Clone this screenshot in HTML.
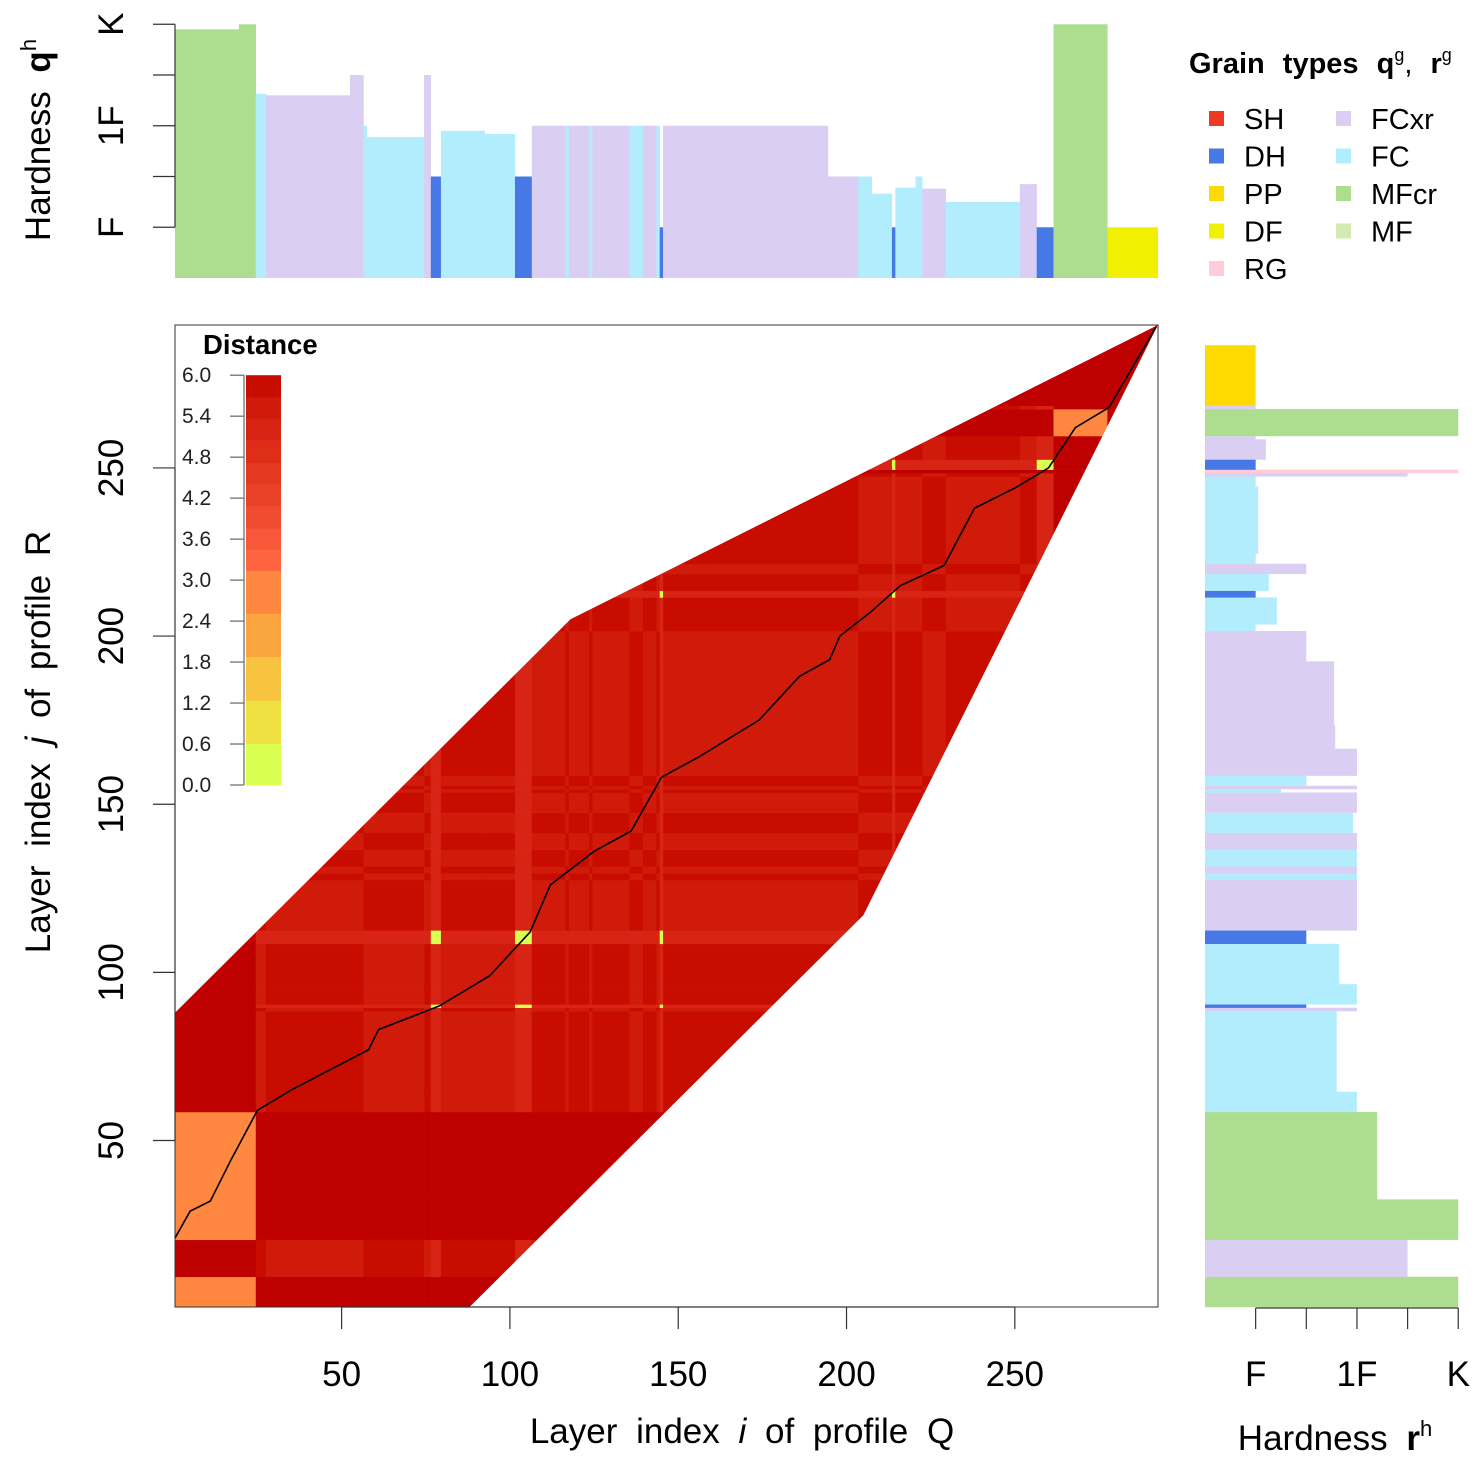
<!DOCTYPE html>
<html><head><meta charset="utf-8"><style>
html,body{margin:0;padding:0;background:#fff}
svg{display:block;font-family:"Liberation Sans",sans-serif}
</style></head><body>
<svg id="chart" width="1484" height="1464" xmlns="http://www.w3.org/2000/svg">
<defs><clipPath id="winclip"><polygon id="winpoly"/></clipPath></defs>
<g id="heat" clip-path="url(#winclip)"></g>
<g id="topbars"></g>
<g id="rightbars"></g>
<path id="warp" fill="none" stroke="#000" stroke-width="1.6"/>
<rect x="175" y="325" width="983" height="982" fill="none" stroke="#333" stroke-width="1"/>
<g id="axes" stroke="#333" stroke-width="1.2" fill="none"></g>
<g id="labels" fill="#000">
  <text x="742" y="1443" font-size="35" text-anchor="middle" word-spacing="9">Layer index <tspan font-style="italic">i</tspan> of profile Q</text>
  <text transform="translate(50,742) rotate(-90)" font-size="35" text-anchor="middle" word-spacing="9">Layer index <tspan font-style="italic">j</tspan> of profile R</text>
  <text transform="translate(50,140) rotate(-90)" font-size="35" text-anchor="middle" word-spacing="9">Hardness <tspan font-weight="bold">q</tspan><tspan font-size="22" dy="-14">h</tspan></text>
  <text x="1335" y="1450" font-size="35" text-anchor="middle" word-spacing="9">Hardness <tspan font-weight="bold">r</tspan><tspan font-size="22" dy="-14">h</tspan></text>
</g>
<g>
  <text x="1189" y="73" font-size="29" font-weight="bold" word-spacing="10">Grain types q<tspan font-size="18" dy="-12" font-weight="normal">g</tspan><tspan dy="12" font-weight="normal">, </tspan><tspan>r</tspan><tspan font-size="18" dy="-12" font-weight="normal">g</tspan></text>
  <g id="legitems"></g>
</g>
<g>
  <text x="203" y="354" font-size="27.5" font-weight="bold">Distance</text>
  <g id="cbar"></g>
</g>
</svg>
<script>
// ---- data ----
const qTop   = [19,24,27,52,56,57,74,76,79,92,101,106,116,117,123,124,135,139,143,144,145,194,203,207,213,214,220,222,229,251,256,261,277,292];
const qGrain = ['MFcr','MFcr','FC','FCxr','FCxr','FC','FC','FCxr','DH','FC','FC','DH','FCxr','FC','FCxr','FC','FCxr','FC','FCxr','FC','DH','FCxr','FCxr','FC','FC','DH','FC','FC','FCxr','FC','FCxr','DH','MFcr','DF'];
const qHard  = [4.9,5,3.63,3.6,4,3,2.78,4,2,2.9,2.84,2,3,3,3,3,3,3,3,3,1,3,2,2,1.66,1,1.78,2,1.76,1.5,1.85,1,5,1];
const rTop   = [9,20,32,58,64,88,89,90,96,108,112,127,129,131,136,141,147,153,154,155,158,166,173,192,201,203,211,213,218,221,224,244,247,248,249,252,258,259,267,268,286,292];
const rGrain = ['MFcr','FCxr','MFcr','MFcr','FC','FC','FCxr','DH','FC','FC','DH','FCxr','FC','FCxr','FC','FCxr','FC','FCxr','FC','FCxr','FC','FCxr','FCxr','FCxr','FCxr','FC','FC','DH','FC','FCxr','FC','FC','FC','FCxr','RG','DH','FCxr','FCxr','MFcr','FCxr','PP','none'];
const rHard  = [5,4,5,3.4,3,2.6,3,2,3,2.65,2,3,3,3,3,3,2.92,3,1.5,3,2,3,2.57,2.55,2,1,1.42,1,1.26,2,1,1.05,1,4,5,1,1.2,1,5,1,1,0];
const winI = [0.5,118,292.5,205,88,0.5];
const winJ = [88,205,292.5,117,0.5,0.5];
const pathI = [0.5,5,11,17,25,35,58,61,79,94,106,112,125,136,145,156,174,186,195,198,207,216,229,238,250,260,268,278,292];
const pathJ = [21,29,32,44,59,65,77,83,90,99,112,126,136,142,158,164,175,188,193,200,207,215,221,238,244,250,262,268,292];
const xTicks = [50,100,150,200,250];
const yTicks = [50,100,150,200,250];
const hTicks = [1,2,3,4,5];
const hLabels = {1:'F',3:'1F',5:'K'};
const cbBreaks = [0,0.61,1.24,1.88,2.51,3.14,3.45,3.76,4.09,4.41,4.72,5.05,5.37,5.68,6.0];
const cbColors = ['#D9FF50','#EEE040','#F8C440','#FBA540','#FF8740','#FF6440','#F85838','#F04C30','#EA4228','#E43820','#DE2E18','#D82414','#D01A0A','#C80C00'];
const cbLabels = ['0.0','0.6','1.2','1.8','2.4','3.0','3.6','4.2','4.8','5.4','6.0'];
const legNames = ['SH','DH','PP','DF','RG','FCxr','FC','MFcr','MF'];
const grainColor = {SH:'#EE3A22',DH:'#4678E6',PP:'#FFDA00',DF:'#F0F000',RG:'#FFCCD8',FCxr:'#DACEF3',FC:'#B2EDFE',MFcr:'#ADDE8F',MF:'#D2EBB5',none:'#fff'};

// ---- scales ----
const xS = i => 175 + (i-0.5)*3.366;
const yS = j => 1307 - (j-0.5)*3.363;
const hY = h => 278 - h*50.75;
const hX = h => 1205 + h*50.65;
const cbY = v => 785 - v*68.3;
const NS='http://www.w3.org/2000/svg';
function mk(tag, attrs, parent){const e=document.createElementNS(NS,tag);for(const k in attrs)e.setAttribute(k,attrs[k]);parent.appendChild(e);return e;}

function dist(a,b){
  if(a==='MFcr'&&b==='MFcr') return 2.8;
  if(a==='DH'&&b==='DH') return 0.3;
  if(a==='MFcr'||b==='MFcr') return 6.01;
  if(['PP','DF','RG','none'].includes(a)||['PP','DF','RG','none'].includes(b)) return 6.01;
  if(a==='DH'||b==='DH') return 5.2;
  if(a===b) return 5.5;
  return 5.8;
}
function colorOf(d){
  if(d>6) return '#BE0000';
  for(let k=0;k<cbColors.length;k++) if(d<=cbBreaks[k+1]) return cbColors[k];
  return cbColors[cbColors.length-1];
}

document.getElementById('winpoly').setAttribute('points', winI.map((v,k)=>xS(v)+','+yS(winJ[k])).join(' '));

const heat=document.getElementById('heat');
let qs=0;
qTop.forEach((qt,a)=>{
  let rs=0;
  rTop.forEach((rt,b)=>{
    const r=mk('rect',{x:xS(qs+0.5),y:yS(rt+0.5),width:xS(qt+0.5)-xS(qs+0.5)+0.3,height:yS(rs+0.5)-yS(rt+0.5)+0.3,fill:colorOf(dist(qGrain[a],rGrain[b]))},heat);
    
    
    rs=rt;
  });
  qs=qt;
});

const tb=document.getElementById('topbars');
qs=0;
qTop.forEach((qt,a)=>{
  const r=mk('rect',{x:xS(qs+0.5),y:hY(qHard[a]),width:xS(qt+0.5)-xS(qs+0.5)+0.2,height:hY(0)-hY(qHard[a]),fill:grainColor[qGrain[a]]},tb);
  
  
  qs=qt;
});
const rb=document.getElementById('rightbars');
let rs=0;
rTop.forEach((rt,b)=>{
  if(rHard[b]>0){
    const r=mk('rect',{x:hX(0),y:yS(rt+0.5),width:hX(rHard[b])-hX(0),height:yS(rs+0.5)-yS(rt+0.5)+0.2,fill:grainColor[rGrain[b]]},rb);
    
    
  }
  rs=rt;
});

document.getElementById('warp').setAttribute('d', pathI.map((v,k)=>(k?'L':'M')+xS(v)+' '+yS(pathJ[k])).join(' '));

const ax=document.getElementById('axes'), lb=document.getElementById('labels');
mk('line',{x1:xS(xTicks[0]),x2:xS(xTicks[xTicks.length-1]),y1:1307,y2:1307},ax);
xTicks.forEach(t=>{
  mk('line',{x1:xS(t),x2:xS(t),y1:1307,y2:1329},ax);
  const tx=mk('text',{x:xS(t),y:1386,'font-size':35,'text-anchor':'middle'},lb);tx.textContent=t;
  
  
});
mk('line',{x1:175,x2:175,y1:yS(yTicks[0]),y2:yS(yTicks[yTicks.length-1])},ax);
yTicks.forEach(t=>{
  mk('line',{x1:153,x2:175,y1:yS(t),y2:yS(t)},ax);
  const tx=mk('text',{transform:`translate(123,${yS(t)}) rotate(-90)`,'font-size':35,'text-anchor':'middle'},lb);tx.textContent=t;
  
  
});
mk('line',{x1:175,x2:175,y1:hY(1),y2:hY(5)},ax);
mk('line',{x1:hX(1),x2:hX(5),y1:1308,y2:1308},ax);
hTicks.forEach(t=>{
  mk('line',{x1:153,x2:175,y1:hY(t),y2:hY(t)},ax);
  mk('line',{x1:hX(t),x2:hX(t),y1:1308,y2:1329},ax);
  if(hLabels[t]){
    const a=mk('text',{transform:`translate(123,${hY(t)}) rotate(-90)`,'font-size':35,'text-anchor':'middle'},lb);a.textContent=hLabels[t];
    
    
    const b=mk('text',{x:hX(t),y:1386,'font-size':35,'text-anchor':'middle'},lb);b.textContent=hLabels[t];
    
    
  }
});

const lg=document.getElementById('legitems');
legNames.forEach((n,k)=>{
  const col=k<5?0:1, row=k<5?k:k-5;
  const x0=col?1336:1209, y0=119+row*37.5;
  const s=mk('rect',{x:x0,y:y0-8,width:15,height:15,fill:grainColor[n]},lg);
  
  
  const t=mk('text',{x:x0+35,y:y0+10,'font-size':29},lg);t.textContent=n;
  
  
});

const cb=document.getElementById('cbar');
cbColors.forEach((c,k)=>{
  const r=mk('rect',{x:246,y:cbY(cbBreaks[k+1]),width:35,height:cbY(cbBreaks[k])-cbY(cbBreaks[k+1])+0.4,fill:c},cb);
  
  
});
mk('line',{x1:244,x2:244,y1:cbY(0),y2:cbY(6),stroke:'#666','stroke-width':1.2},cb);
cbLabels.forEach(l=>{
  const v=parseFloat(l);
  mk('line',{x1:230,x2:244,y1:cbY(v),y2:cbY(v),stroke:'#666','stroke-width':1.2},cb);
  const t=mk('text',{x:182,y:cbY(v)+7,'font-size':21,fill:'#222'},cb);t.textContent=l;
  
  
});
</script>
</body></html>
